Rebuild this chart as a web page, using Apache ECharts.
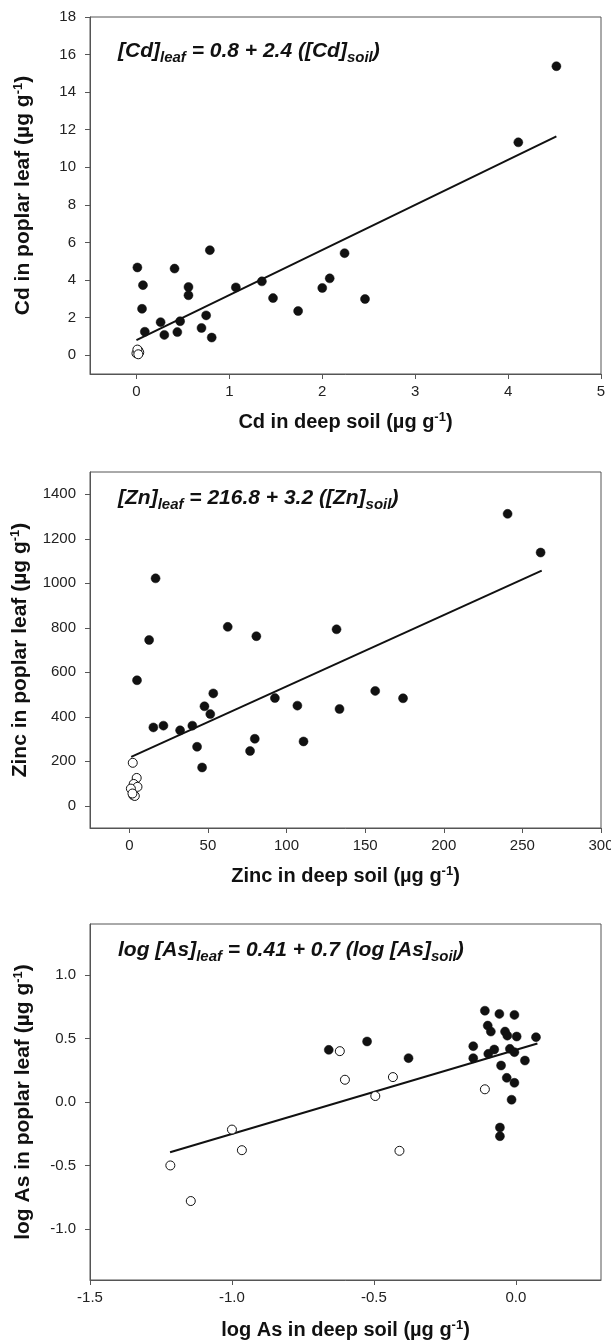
<!DOCTYPE html>
<html><head><meta charset="utf-8">
<script src="https://cdn.jsdelivr.net/npm/echarts@6/dist/echarts.min.js"></script>
<style>html,body{margin:0;padding:0;background:#fff}#c{width:611px;height:1340px}</style>
</head><body><div id="c"></div>
<script>
// ---- Panel 1: Cd ----
const cdFilledX = [4.52, 4.11, 0.01, 0.41, 0.79, 0.07, 0.56, 0.56, 0.06, 1.07, 1.35, 1.47, 1.74, 2.00, 2.08, 2.24, 2.46, 0.26, 0.47, 0.09, 0.30, 0.44, 0.70, 0.75, 0.81];
const cdFilledY = [15.38, 11.33, 4.67, 4.61, 5.59, 3.73, 3.63, 3.19, 2.47, 3.61, 3.93, 3.04, 2.35, 3.58, 4.09, 5.43, 2.99, 1.76, 1.81, 1.25, 1.08, 1.23, 1.45, 2.12, 0.94];
const cdOpenX = [0.00, 0.02, 0.03, 0.01, 0.02];
const cdOpenY = [0.10, 0.25, 0.15, 0.30, 0.05];
const cdLineX = [0.0, 4.52];
const cdLineY = [0.8, 11.65];
const cdXTicks = [0, 1, 2, 3, 4, 5];
const cdYTicks = [0, 2, 4, 6, 8, 10, 12, 14, 16, 18];

// ---- Panel 2: Zn ----
const znFilledX = [240.6, 261.6, 16.7, 12.6, 62.6, 80.8, 131.8, 4.9, 53.4, 47.8, 51.5, 92.6, 106.9, 133.7, 156.4, 174.1, 15.3, 21.7, 32.3, 40.1, 43.1, 46.3, 76.8, 79.8, 110.8];
const znFilledY = [1312, 1138, 1022, 745, 804, 762, 793, 564, 505, 447, 412, 484, 450, 435, 516, 483, 352, 360, 339, 360, 265, 172, 246, 301, 289];
const znOpenX = [2.2, 4.7, 2.8, 5.2, 1.0, 2.5, 3.5, 2.0];
const znOpenY = [193, 125, 98, 85, 77, 47, 44, 55];
const znLineX = [1.2, 262.3];
const znLineY = [220, 1057];
const znXTicks = [0, 50, 100, 150, 200, 250, 300];
const znYTicks = [0, 200, 400, 600, 800, 1000, 1200, 1400];

// ---- Panel 3: As (log) ----
const asOpenX = [-1.217, -1.145, -1.0, -0.965, -0.62, -0.602, -0.495, -0.433, -0.41, -0.109];
const asOpenY = [-0.499, -0.779, -0.217, -0.379, 0.40, 0.175, 0.047, 0.196, -0.384, 0.10];
const asFilledX = [-0.659, -0.524, -0.378, -0.150, -0.150, -0.109, -0.099, -0.088, -0.097, -0.076, -0.058, -0.038, -0.030, -0.005, 0.003, -0.021, -0.005, 0.071, 0.032, -0.052, -0.032, -0.005, -0.015, -0.056, -0.056];
const asFilledY = [0.41, 0.476, 0.345, 0.439, 0.345, 0.718, 0.601, 0.554, 0.379, 0.413, 0.693, 0.554, 0.522, 0.685, 0.515, 0.418, 0.392, 0.51, 0.326, 0.287, 0.19, 0.151, 0.018, -0.201, -0.269];
const asLineX = [-1.218, 0.076];
const asLineY = [-0.395, 0.46];
const asXTicks = [-1.5, -1.0, -0.5, 0.0];
const asYTicks = [-1.0, -0.5, 0.0, 0.5, 1.0];

const FONT = 'Liberation Sans';
const AXC = '#555';
const zip = (xs, ys) => xs.map((x, i) => [x, ys[i]]);

const nameRich = (size) => ({
  b: {fontFamily: FONT, fontWeight: 'bold', fontSize: size, color: '#111', lineHeight: 24},
  sup: {fontFamily: FONT, fontWeight: 'bold', fontSize: 13, color: '#111', lineHeight: 14, padding: [0, 0, 10, 0]}
});
const eqRich = {
  i: {fontFamily: FONT, fontWeight: 'bold', fontStyle: 'italic', fontSize: 21, color: '#111', lineHeight: 30},
  s: {fontFamily: FONT, fontWeight: 'bold', fontStyle: 'italic', fontSize: 15, color: '#111', lineHeight: 16, padding: [14, 0, 0, 0]}
};

function mkX(gi, min, max, ticks, fmt, name, gap) {
  return {
    type: 'value', gridIndex: gi, min: min, max: max,
    axisLine: {show: true, onZero: false, lineStyle: {color: AXC, width: 1}},
    axisTick: {show: true, inside: false, length: 5, customValues: ticks, lineStyle: {color: AXC}},
    axisLabel: {customValues: ticks, formatter: fmt, fontFamily: FONT, fontSize: 15, color: '#222', margin: 10},
    splitLine: {show: false},
    name: name, nameLocation: 'middle', nameGap: gap,
    nameTextStyle: {rich: nameRich(20)}
  };
}
function mkY(gi, min, max, ticks, fmt, name) {
  return {
    type: 'value', gridIndex: gi, min: min, max: max,
    axisLine: {show: true, onZero: false, lineStyle: {color: AXC, width: 1}},
    axisTick: {show: true, inside: false, length: 5, customValues: ticks, lineStyle: {color: AXC}},
    axisLabel: {customValues: ticks, formatter: fmt, fontFamily: FONT, fontSize: 15, color: '#222', margin: 14},
    splitLine: {show: false},
    name: name, nameLocation: 'middle', nameGap: 55, nameRotate: 90,
    nameTextStyle: {rich: nameRich(21)}
  };
}
const intFmt = v => String(Math.round(v));
const f1 = v => v.toFixed(1);

function scat(gi, data, filled) {
  return {
    type: 'scatter', xAxisIndex: gi, yAxisIndex: gi, data: data, symbol: 'circle', symbolSize: 9,
    itemStyle: filled ? {color: '#111', borderColor: '#111', borderWidth: 0.5, opacity: 1}
                      : {color: '#fff', borderColor: '#111', borderWidth: 1, opacity: 1},
    z: filled ? 3 : 4
  };
}
function fit(gi, data) {
  return {type: 'line', xAxisIndex: gi, yAxisIndex: gi, data: data, symbol: 'none',
          lineStyle: {color: '#111', width: 2}, z: 2};
}
function mkGrid(top, height) {
  return {left: 90, right: 10, top: top, height: height, show: true, borderColor: AXC, borderWidth: 1,
          backgroundColor: 'transparent', containLabel: false, outerBoundsMode: 'none'};
}

const option = {
  animation: false,
  backgroundColor: '#fff',
  grid: [mkGrid(17, 357), mkGrid(472, 356), mkGrid(924, 356)],
  title: [
    {left: 118, top: 36, padding: 0, text: '{i|[Cd]}{s|leaf}{i| = 0.8 + 2.4 ([Cd]}{s|soil}{i|)}', textStyle: {rich: eqRich}},
    {left: 118, top: 483, padding: 0, text: '{i|[Zn]}{s|leaf}{i| = 216.8 + 3.2 ([Zn]}{s|soil}{i|)}', textStyle: {rich: eqRich}},
    {left: 118, top: 935, padding: 0, text: '{i|log [As]}{s|leaf}{i| = 0.41 + 0.7 (log [As]}{s|soil}{i|)}', textStyle: {rich: eqRich}}
  ],
  xAxis: [
    mkX(0, -0.5, 5, cdXTicks, intFmt, '{b|Cd in deep soil (µg g}{sup|-1}{b|)}', 36),
    mkX(1, -25, 300, znXTicks, intFmt, '{b|Zinc in deep soil (µg g}{sup|-1}{b|)}', 36),
    mkX(2, -1.5, 0.3, asXTicks, f1, '{b|log As in deep soil (µg g}{sup|-1}{b|)}', 38)
  ],
  yAxis: [
    mkY(0, -1, 18, cdYTicks, intFmt, '{b|Cd in poplar leaf (µg g}{sup|-1}{b|)}'),
    mkY(1, -100, 1500, znYTicks, intFmt, '{b|Zinc in poplar leaf (µg g}{sup|-1}{b|)}'),
    mkY(2, -1.4, 1.4, asYTicks, f1, '{b|log As in poplar leaf (µg g}{sup|-1}{b|)}')
  ],
  series: [
    fit(0, zip(cdLineX, cdLineY)),
    scat(0, zip(cdFilledX, cdFilledY), true),
    scat(0, zip(cdOpenX, cdOpenY), false),
    fit(1, zip(znLineX, znLineY)),
    scat(1, zip(znFilledX, znFilledY), true),
    scat(1, zip(znOpenX, znOpenY), false),
    fit(2, zip(asLineX, asLineY)),
    scat(2, zip(asFilledX, asFilledY), true),
    scat(2, zip(asOpenX, asOpenY), false)
  ]
};
const chart = echarts.init(document.getElementById('c'), null, {renderer: 'canvas'});
chart.setOption(option);
</script></body></html>
